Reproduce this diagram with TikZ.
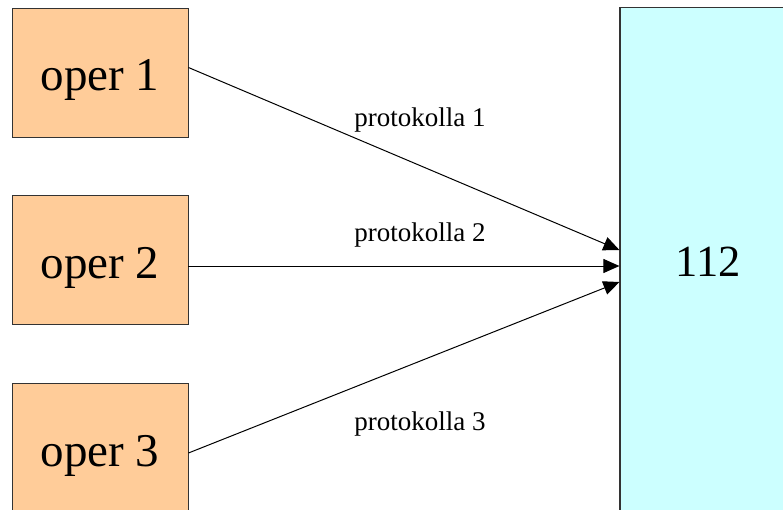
\documentclass[tikz,border=0pt]{standalone}
\usepackage{fontspec}
\setmainfont{Liberation Serif}
\usetikzlibrary{arrows.meta}
\definecolor{operfill}{HTML}{FFCC99}
\definecolor{centerfill}{HTML}{CCFFFF}
\definecolor{edgegray}{HTML}{333333}
\tikzset{
  operbox/.style={draw=edgegray, line width=0.9pt, fill=operfill,
    minimum width=176pt, minimum height=129pt, inner sep=0pt,
    font=\fontsize{47pt}{52pt}\selectfont, text height=39pt, text depth=2pt},
  centerbox/.style={draw=edgegray, line width=1.2pt, fill=centerfill,
    minimum width=176pt, minimum height=509pt, inner sep=0pt,
    font=\fontsize{44.5pt}{50pt}\selectfont},
  link/.style={line width=1pt, -{Triangle[length=16pt,width=14pt]}},
  linklabel/.style={anchor=base, inner sep=0pt, font=\fontsize{27pt}{31pt}\selectfont}
}
\begin{document}
\begin{tikzpicture}[x=1pt, y=-1pt]
  \useasboundingbox (0,0) rectangle (783,510);
  \clip (0,0) rectangle (783,510);

  % operator boxes on the left
  \node[operbox] (o1) at (100,72.5) {oper 1};
  \node[operbox] (o2) at (100,260) {oper 2};
  \node[operbox] (o3) at (100,447.5) {oper 3};

  % emergency centre on the right
  \node[centerbox] (c) at (708,262) {112};

  % protocol links
  \draw[link] ([yshift=5pt]o1.east) -- ([yshift=12pt]c.west);
  \draw[link] ([yshift=-6pt]o2.east) -- ([yshift=-4pt]c.west);
  \draw[link] ([yshift=-5.5pt]o3.east) -- ([yshift=-20pt]c.west);

  % link labels
  \node[linklabel] (l1) at (420,127) {protokolla 1};
  \node[linklabel] (l2) at (420,242) {protokolla 2};
  \node[linklabel] (l3) at (420,430) {protokolla 3};
\end{tikzpicture}
\end{document}
